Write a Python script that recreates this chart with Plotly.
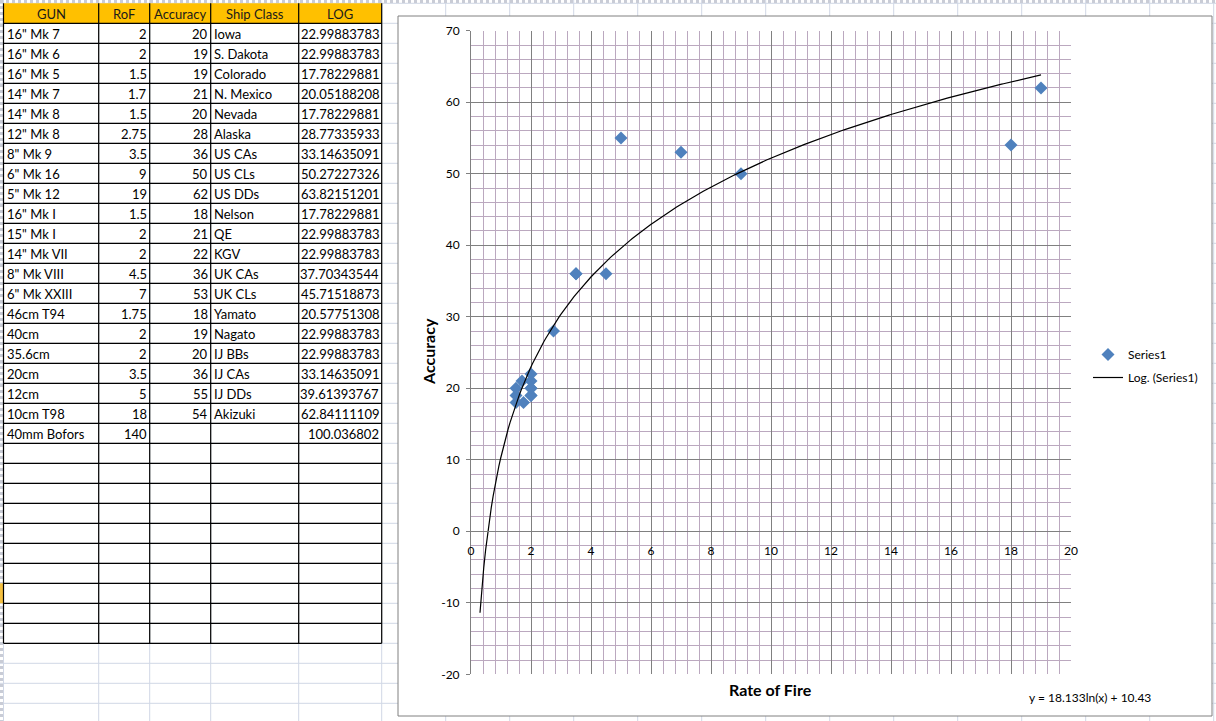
import plotly.graph_objects as go
import numpy as np

# ---------------- data ----------------
guns = ['16" Mk 7', '16" Mk 6', '16" Mk 5', '14" Mk 7', '14" Mk 8', '12" Mk 8', '8" Mk 9',
        '6" Mk 16', '5" Mk 12', '16" Mk I', '15" Mk I', '14" Mk VII', '8" Mk VIII',
        '6" Mk XXIII', '46cm T94', '40cm', '35.6cm', '20cm', '12cm', '10cm T98', '40mm Bofors']
rof = [2, 2, 1.5, 1.7, 1.5, 2.75, 3.5, 9, 19, 1.5, 2, 2, 4.5, 7, 1.75, 2, 2, 3.5, 5, 18, 140]
accuracy = [20, 19, 19, 21, 20, 28, 36, 50, 62, 18, 21, 22, 36, 53, 18, 19, 20, 36, 55, 54, None]
ship_class = ['Iowa', 'S. Dakota', 'Colorado', 'N. Mexico', 'Nevada', 'Alaska', 'US CAs',
              'US CLs', 'US DDs', 'Nelson', 'QE', 'KGV', 'UK CAs', 'UK CLs', 'Yamato',
              'Nagato', 'IJ BBs', 'IJ CAs', 'IJ DDs', 'Akizuki', '']
log_vals = [22.99883783, 22.99883783, 17.78229881, 20.05188208, 17.78229881, 28.77335933,
            33.14635091, 50.27227326, 63.82151201, 17.78229881, 22.99883783, 22.99883783,
            37.70343544, 45.71518873, 20.57751308, 22.99883783, 22.99883783, 33.14635091,
            39.61393767, 62.84111109, 100.036802]
headers = ["GUN", "RoF", "Accuracy", "Ship Class", "LOG"]

# trendline as displayed on the chart: y = 18.133 ln(x) + 10.43
trend_a = 18.133
trend_b = 10.43
trend_x_start = 0.30
trend_x_end = 19

x_ticks = list(range(0, 21, 2))
y_ticks = list(range(-20, 71, 10))

# ---------------- geometry helpers ----------------
W, H = 1216, 721
def px(x):
    return x / W
def py(y):
    return 1 - y / H

FONT = "Lato"
shapes = []
annotations = []

# Excel sheet grid (background)
grid_c = "#D0D7E5"
col_edges = [3.5, 98.7, 149.7, 210.7, 298.7, 381.7]
sheet_cols = col_edges + [381.7 + 64 * k for k in range(1, 14)]
row_lines = [3.3 + 20 * k for k in range(0, 37)]
for xv in sheet_cols:
    shapes.append(dict(type="line", xref="paper", yref="paper", x0=px(xv), x1=px(xv),
                       y0=py(0), y1=py(H), line=dict(color=grid_c, width=1), layer="below"))
for yv in row_lines:
    shapes.append(dict(type="line", xref="paper", yref="paper", x0=px(0), x1=px(W),
                       y0=py(yv), y1=py(yv), line=dict(color=grid_c, width=1), layer="below"))
# copy marquee strips
shapes.append(dict(type="line", xref="paper", yref="paper", x0=px(0), x1=px(W), y0=py(1.5), y1=py(1.5),
                   line=dict(color="#C9CCD6", width=3, dash="dot"), layer="below"))
shapes.append(dict(type="line", xref="paper", yref="paper", x0=px(1.5), x1=px(1.5), y0=py(0), y1=py(H),
                   line=dict(color="#C9CCD6", width=3, dash="dot"), layer="below"))
shapes.append(dict(type="rect", xref="paper", yref="paper", x0=px(0), x1=px(3), y0=py(583.3), y1=py(603.3),
                   fillcolor="#F5C040", line=dict(width=0), layer="below"))

# Table header fill
n_rows = 31  # data rows incl. empty bordered rows
top = row_lines[0]
shapes.append(dict(type="rect", xref="paper", yref="paper", x0=px(col_edges[0]), x1=px(col_edges[-1]),
                   y0=py(top), y1=py(top + 20), fillcolor="#FFC000", line=dict(width=0), layer="below"))
table_bottom = top + 20 * (n_rows + 1)
for xv in col_edges:
    shapes.append(dict(type="line", xref="paper", yref="paper", x0=px(xv), x1=px(xv),
                       y0=py(top), y1=py(table_bottom), line=dict(color="black", width=1.2), layer="below"))
for k in range(1, n_rows + 2):
    yv = top + 20 * k
    shapes.append(dict(type="line", xref="paper", yref="paper", x0=px(col_edges[0]), x1=px(col_edges[-1]),
                       y0=py(yv), y1=py(yv), line=dict(color="black", width=1.2), layer="below"))

# header text
for i, h in enumerate(headers):
    cx = (col_edges[i] + col_edges[i + 1]) / 2
    annotations.append(dict(x=px(cx), y=py(top + 10.5), xref="paper", yref="paper", text=h,
                            showarrow=False, xanchor="center", yanchor="middle",
                            font=dict(family=FONT, size=13, color="#1a1a1a")))

def fmt(v):
    if v is None:
        return ""
    if isinstance(v, float) and v != int(v):
        return repr(v)
    return f"{v:g}"

for r in range(len(guns)):
    cy = top + 20 * (r + 1) + 10.5
    cells = [
        (guns[r], col_edges[0] + 1.2, "left"),
        (fmt(rof[r]), col_edges[2] - 1.2, "right"),
        (fmt(accuracy[r]), col_edges[3] - 1.2, "right"),
        (ship_class[r], col_edges[3] + 1.2, "left"),
        (repr(log_vals[r]), col_edges[5] - 1.2, "right"),
    ]
    for txt, xv, anc in cells:
        if txt == "":
            continue
        annotations.append(dict(x=px(xv), y=py(cy), xref="paper", yref="paper", text=txt,
                                showarrow=False, xanchor=anc, yanchor="middle",
                                font=dict(family=FONT, size=13, color="black")))

# chart area
shapes.append(dict(type="rect", xref="paper", yref="paper", x0=px(398), x1=px(1212), y0=py(16), y1=py(716),
                   fillcolor="white", line=dict(color="#808080", width=1), layer="below"))

# ---------------- traces ----------------
sx = [r_ for r_, a in zip(rof, accuracy) if a is not None]
sy = [a for a in accuracy if a is not None]

tx = np.linspace(trend_x_start, trend_x_end, 300)
ty = trend_a * np.log(tx) + trend_b

fig = go.Figure()
fig.add_trace(go.Scatter(x=sx, y=sy, mode="markers", name="Series1", legendgroup="a",
                         marker=dict(symbol="diamond", size=10, color="#4F81BD", line=dict(width=0))))
fig.add_trace(go.Scatter(x=tx, y=ty, mode="lines", name="Log. (Series1)", legendgroup="b",
                         line=dict(color="black", width=1.2)))

# ---------------- axes ----------------
ydom = [py(674.3), py(30.7)]
xdom = [px(471), px(1071)]
y_min, y_max = -20, 70
x_axis_pos = ydom[0] + (0 - y_min) / (y_max - y_min) * (ydom[1] - ydom[0])

major_c = "#808080"
minor_c = "#BBA8BF"

fig.update_layout(
    width=W, height=H, autosize=False,
    margin=dict(l=0, r=0, t=0, b=0, pad=0, autoexpand=False),
    paper_bgcolor="white", plot_bgcolor="rgba(0,0,0,0)",
    font=dict(family=FONT, size=12, color="black"),
    shapes=shapes, annotations=annotations,
    showlegend=True,
    legend=dict(x=px(1088), y=py(340), xanchor="left", yanchor="top",
                bgcolor="rgba(0,0,0,0)", font=dict(family=FONT, size=12),
                tracegroupgap=4, traceorder="grouped"),
    xaxis=dict(domain=xdom, range=[0, 20], tickvals=x_ticks, ticktext=[str(v) for v in x_ticks],
               anchor="free", position=x_axis_pos, automargin=False,
               showgrid=True, gridcolor=major_c, gridwidth=1, zeroline=False,
               showline=True, linecolor=major_c, ticks="", ticklabelstandoff=8,
               tickfont=dict(family=FONT, size=12, color="black"),
               minor=dict(dtick=0.4, showgrid=True, gridcolor=minor_c, gridwidth=1)),
    yaxis=dict(domain=ydom, range=[y_min, y_max], tickvals=y_ticks, ticktext=[str(v) for v in y_ticks],
               anchor="x", automargin=False,
               showgrid=True, gridcolor=major_c, gridwidth=1, zeroline=False,
               showline=True, linecolor=major_c, ticks="outside", ticklen=4, tickcolor=major_c,
               ticklabelstandoff=4,
               tickfont=dict(family=FONT, size=12, color="black"),
               minor=dict(dtick=2, showgrid=True, gridcolor=minor_c, gridwidth=1)),
)

fig.add_annotation(x=px(428), y=py(352), xref="paper", yref="paper", text="<b>Accuracy</b>",
                   textangle=-90, showarrow=False, xanchor="center", yanchor="middle",
                   font=dict(family=FONT, size=16, color="black"))
fig.add_annotation(x=px(770), y=py(689), xref="paper", yref="paper", text="<b>Rate of Fire</b>",
                   showarrow=False, xanchor="center", yanchor="middle",
                   font=dict(family=FONT, size=16, color="black"))
fig.add_annotation(x=px(1090), y=py(697), xref="paper", yref="paper", text="y = 18.133ln(x) + 10.43",
                   showarrow=False, xanchor="center", yanchor="middle",
                   font=dict(family=FONT, size=12, color="black"))

fig.write_html("out.html")
